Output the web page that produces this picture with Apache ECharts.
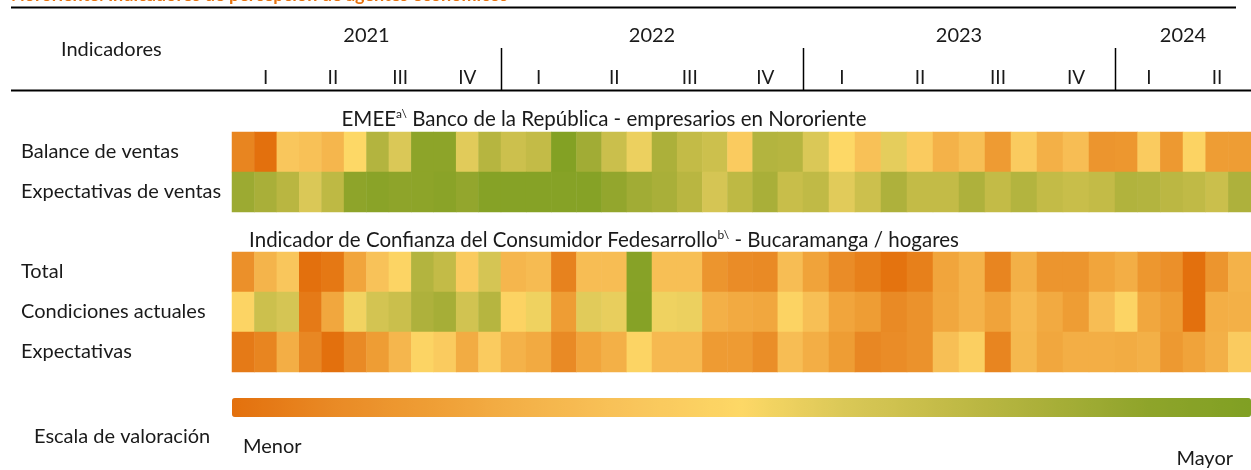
<!DOCTYPE html>
<html>
<head>
<meta charset="utf-8">
<script src="https://cdn.jsdelivr.net/npm/echarts@6/dist/echarts.min.js"></script>
<style>
  html, body { margin: 0; padding: 0; background: #fff; }
  #chart { width: 1251px; height: 470px; }
</style>
</head>
<body>
<div id="chart"></div>
<script>
// --- data -------------------------------------------------------------------
// Rows top to bottom; '' is the spacer row that holds the second heading.
const rows = ['Balance de ventas', 'Expectativas de ventas', '', 'Total', 'Condiciones actuales', 'Expectativas'];
const years = ['2021', '2022', '2023', '2024'];
const quarters = ['I', 'II', 'III', 'IV'];
const monthNames = ['ene', 'feb', 'mar', 'abr', 'may', 'jun', 'jul', 'ago', 'sep', 'oct', 'nov', 'dic'];
const monthsPerYear = [12, 12, 12, 6]; // series stops in jun-2024

// Position on the valuation scale: 0 = menor, 100 = mayor.
const balanceVentas = [8, 0, 40, 37, 31, 50, 76, 60, 91, 91, 58, 75,
  66, 70, 98, 83, 67, 55, 79, 70, 66, 43, 76, 75,
  60, 50, 37, 57, 43, 29, 36, 18, 43, 28, 35, 15,
  16, 43, 17, 47, 19, 19];
const expectativasVentas = [85, 80, 74, 60, 72, 90, 93, 90, 91, 93, 88, 96,
  96, 96, 96, 96, 88, 83, 80, 74, 62, 72, 80, 68,
  71, 58, 66, 78, 70, 70, 78, 70, 76, 70, 68, 70,
  77, 76, 73, 71, 67, 78];
const total = [13, 30, 40, 0, 3, 23, 38, 48, 76, 70, 43, 62,
  31, 34, 7, 35, 35, 95, 36, 36, 15, 11, 10, 35,
  22, 11, 6, 1, 6, 23, 29, 8, 28, 15, 15, 23,
  27, 16, 13, 0, 15, 29];
const condicionesActuales = [48, 66, 62, 4, 24, 53, 63, 67, 78, 81, 64, 75,
  47, 54, 19, 58, 56, 96, 54, 55, 28, 25, 24, 47,
  36, 23, 19, 10, 14, 24, 29, 22, 33, 25, 19, 35,
  48, 24, 19, 0, 27, 28];
const expectativas = [4, 8, 27, 9, 0, 10, 19, 31, 48, 43, 26, 43,
  29, 25, 10, 23, 28, 48, 33, 33, 18, 18, 12, 35,
  27, 19, 9, 11, 14, 36, 45, 8, 32, 24, 27, 27,
  26, 28, 17, 22, 28, 43];

const rowValues = [balanceVentas, expectativasVentas, null, total, condicionesActuales, expectativas];

const scaleColors = ['#e3700d', '#e98a25', '#ef9f36', '#f4b44b', '#f9c65c', '#fdd866',
  '#dac857', '#c3bb47', '#a9af39', '#8ea42a', '#80a023'];

// --- layout -----------------------------------------------------------------
const FONT = 'Lato, "Open Sans", sans-serif';
const INK = '#1a1a1a';
const yearEdges = [232, 501, 803, 1115, 1258]; // x edges of each year block
const GRID_TOP = 132, GRID_H = 240;

const chart = echarts.init(document.getElementById('chart'), null, { renderer: 'canvas' });

const grids = [], xAxes = [], yAxes = [], series = [];
let start = 0;
years.forEach((y, i) => {
  const n = monthsPerYear[i];
  const months = monthNames.slice(0, n).map(m => `${m}-${y.slice(2)}`);
  grids.push({ left: yearEdges[i], width: yearEdges[i + 1] - yearEdges[i], top: GRID_TOP, height: GRID_H });
  xAxes.push({
    type: 'category', gridIndex: i, data: months, position: 'top', offset: 42,
    axisLine: { show: false }, axisTick: { show: false }, splitLine: { show: false },
    axisLabel: {
      interval: (idx) => idx % 3 === 1,
      formatter: (v, idx) => quarters[Math.floor(idx / 3)],
      color: INK, fontFamily: FONT, fontSize: 19, margin: 3
    },
    name: y, nameLocation: 'middle', nameGap: 44,
    nameTextStyle: { color: INK, fontFamily: FONT, fontSize: 20 }
  });
  yAxes.push({
    type: 'category', gridIndex: i, data: rows, inverse: true, show: i === 0,
    axisLine: { show: false }, axisTick: { show: false }, splitLine: { show: false },
    axisLabel: { align: 'left', margin: 211, color: INK, fontFamily: FONT, fontSize: 20 }
  });
  const data = [];
  rowValues.forEach((vals, r) => {
    if (!vals) return;
    for (let k = 0; k < n; k++) data.push([k, r, vals[start + k]]);
  });
  series.push({
    type: 'heatmap', xAxisIndex: i, yAxisIndex: i, data,
    itemStyle: { borderWidth: 0 }, emphasis: { disabled: true }
  });
  start += n;
});

const txt = (x, y, text, size, extra = {}) => ({
  type: 'text', x, y, silent: true,
  style: Object.assign({ text, fill: INK, font: `${size}px ${FONT}`, verticalAlign: 'middle' }, extra)
});
const rule = (x1, y1, x2, y2, w) => ({
  type: 'line', silent: true, shape: { x1, y1, x2, y2 }, style: { stroke: '#000', lineWidth: w }
});
const sup = { fontSize: 12, fontFamily: FONT, fill: INK, verticalAlign: 'top', lineHeight: 12 };

chart.setOption({
  animation: false,
  grid: grids,
  xAxis: xAxes,
  yAxis: yAxes,
  visualMap: {
    type: 'continuous', min: 0, max: 100, orient: 'horizontal',
    left: 232, top: 398, itemWidth: 19, itemHeight: 1019, padding: 0,
    calculable: false, hoverLink: false, seriesIndex: [0, 1, 2, 3],
    inRange: { color: scaleColors }
  },
  series,
  graphic: [
    txt(11, 4.5, 'Nororiente: Indicadores de percepción de agentes económicos', 18,
      { fill: '#e8740f', font: `bold 18px ${FONT}`, verticalAlign: 'bottom' }),
    rule(11, 7.5, 1236, 7.5, 2),
    rule(11, 90.5, 1251, 90.5, 2),
    ...yearEdges.slice(1, 4).map(x => rule(x + 0.5, 48, x + 0.5, 90, 1.5)),
    txt(61, 50, 'Indicadores', 20),
    txt(604, 119, 'EMEE{s|a\\} Banco de la República - empresarios en Nororiente', 20.5,
      { align: 'center', rich: { s: sup } }),
    txt(604, 240, 'Indicador de Confianza del Consumidor Fedesarrollo{s|b\\} - Bucaramanga / hogares', 20.5,
      { align: 'center', rich: { s: sup } }),
    txt(34, 437, 'Escala de valoración', 20),
    txt(243, 447, 'Menor', 20),
    txt(1233, 459, 'Mayor', 20, { align: 'right' })
  ]
});
</script>
</body>
</html>
